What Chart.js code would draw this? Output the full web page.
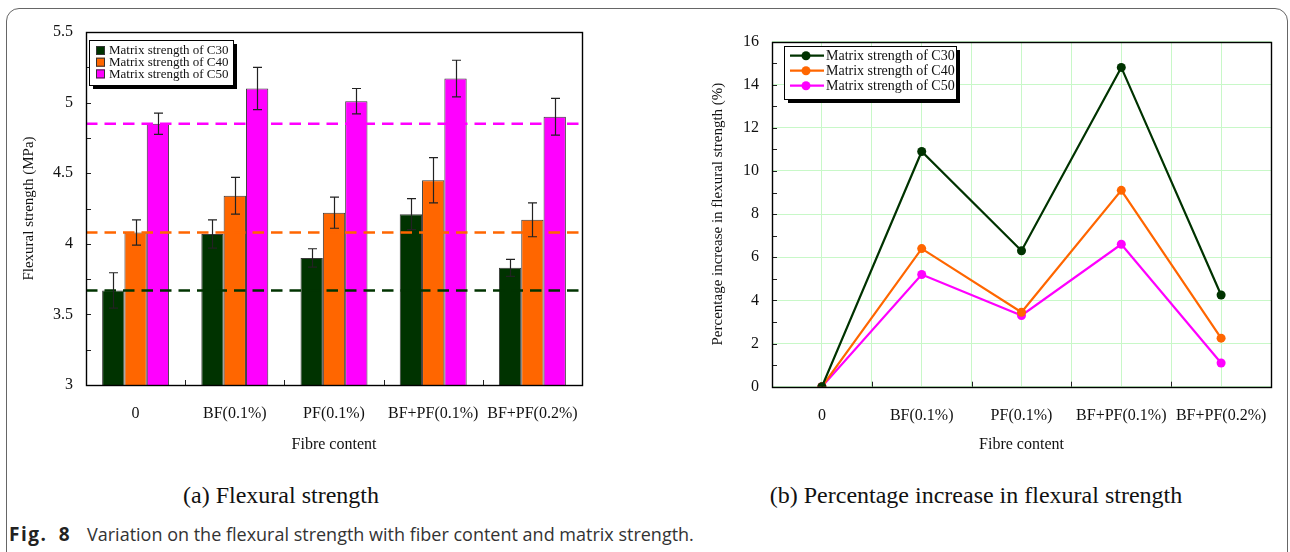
<!DOCTYPE html>
<html>
<head>
<meta charset="utf-8">
<script src="https://cdn.jsdelivr.net/npm/chart.js@4.4.1/dist/chart.umd.min.js"></script>
<style>
  html, body { margin: 0; padding: 0; background: #fff; }
  body { width: 1290px; height: 552px; position: relative; overflow: hidden; }
  .frame { position: absolute; left: 6px; top: 8px; width: 1282px; height: 620px; border: 1px solid #666; border-radius: 13px; box-sizing: border-box; }
  #flexural { position: absolute; left: 0; top: 0; }
  #increase { position: absolute; left: 640px; top: 0; }
  .sub { position: absolute; top: 482px; font: 24px "Liberation Serif", "Times New Roman", serif; color: #111; transform: translateX(-50%); white-space: nowrap; }
  .fig { position: absolute; top: 522px; font: 18px "Open Sans", sans-serif; color: #333; white-space: nowrap; }
  .fig.num { font-weight: bold; font-size: 19px; color: #222; top: 521px; left: 9px; letter-spacing: 1.5px; word-spacing: 5px; }
</style>
</head>
<body>
<div class="frame"></div>
<canvas id="flexural" width="610" height="460"></canvas>
<canvas id="increase" width="650" height="460"></canvas>
<div class="sub" style="left:281px">(a) Flexural strength</div>
<div class="sub" style="left:976px">(b) Percentage increase in flexural strength</div>
<div class="fig num">Fig. 8</div>
<div class="fig" style="left:87px">Variation on the flexural strength with fiber content and matrix strength.</div>

<script>
const categories = ['0', 'BF(0.1%)', 'PF(0.1%)', 'BF+PF(0.1%)', 'BF+PF(0.2%)'];
const seriesNames = ['Matrix strength of C30', 'Matrix strength of C40', 'Matrix strength of C50'];
const seriesColors = ['#003300', '#ff6600', '#ff00ff'];

// flexural strength, MPa
const strengthC30 = [3.67, 4.07, 3.90, 4.21, 3.83];
const strengthC40 = [4.08, 4.34, 4.22, 4.45, 4.17];
const strengthC50 = [4.85, 5.10, 5.01, 5.17, 4.90];
// error bar half-heights
const errorC30 = [0.125, 0.10, 0.065, 0.11, 0.06];
const errorC40 = [0.09, 0.13, 0.11, 0.16, 0.12];
const errorC50 = [0.075, 0.15, 0.09, 0.13, 0.13];

// percentage increase over plain matrix
const increaseC30 = [0, 10.9, 6.3, 14.8, 4.25];
const increaseC40 = [0, 6.4, 3.45, 9.1, 2.25];
const increaseC50 = [0, 5.2, 3.3, 6.6, 1.1];

const strengthTicks = [3, 3.5, 4, 4.5, 5, 5.5];
const increaseTicks = [0, 2, 4, 6, 8, 10, 12, 14, 16];

Chart.defaults.font.family = '"Liberation Serif", "Times New Roman", serif';
Chart.defaults.color = '#111';

// plot box plus short inward tick marks
const frameTicks = {
  id: 'frameTicks',
  afterDraw(chart, args, opts) {
    const {ctx, chartArea: a, scales: {x, y}} = chart;
    ctx.save();
    ctx.strokeStyle = '#222';
    ctx.lineWidth = 1;
    ctx.beginPath();
    for (let v = y.min + opts.yStep; v < y.max - 1e-9; v += opts.yStep) {
      const py = Math.round(y.getPixelForValue(v)) + 0.5;
      ctx.moveTo(a.left, py);
      ctx.lineTo(a.left + 5, py);
    }
    opts.xTicks(x).forEach(px => {
      px = Math.round(px) + 0.5;
      ctx.moveTo(px, a.bottom);
      ctx.lineTo(px, a.bottom - 5);
    });
    ctx.stroke();
    ctx.lineWidth = 1.4;
    ctx.strokeStyle = '#000';
    ctx.strokeRect(Math.round(a.left) + 0.5, Math.round(a.top) + 0.5, Math.round(a.width), Math.round(a.height));
    ctx.restore();
  }
};

// dashed reference lines at the plain-matrix strength
const dashedRefs = {
  id: 'dashedRefs',
  afterDatasetsDraw(chart) {
    const {ctx, chartArea: a, scales: {y}} = chart;
    ctx.save();
    ctx.lineWidth = 2.5;
    ctx.setLineDash([11.5, 7]);
    chart.data.datasets.forEach(ds => {
      const py = y.getPixelForValue(ds.data[0]);
      ctx.strokeStyle = ds.backgroundColor;
      ctx.beginPath();
      ctx.moveTo(a.left, py);
      ctx.lineTo(a.right, py);
      ctx.stroke();
    });
    ctx.restore();
  }
};

const errorBars = {
  id: 'errorBars',
  afterDatasetsDraw(chart) {
    const {ctx, scales: {y}} = chart;
    ctx.save();
    ctx.strokeStyle = '#222';
    ctx.lineWidth = 1.2;
    chart.data.datasets.forEach((ds, i) => {
      chart.getDatasetMeta(i).data.forEach((bar, j) => {
        const hi = y.getPixelForValue(ds.data[j] + ds.errors[j]);
        const lo = y.getPixelForValue(ds.data[j] - ds.errors[j]);
        const px = Math.round(bar.x) + 0.5;
        ctx.beginPath();
        ctx.moveTo(px, hi); ctx.lineTo(px, lo);
        ctx.moveTo(px - 4.5, hi); ctx.lineTo(px + 4.5, hi);
        ctx.moveTo(px - 4.5, lo); ctx.lineTo(px + 4.5, lo);
        ctx.stroke();
      });
    });
    ctx.restore();
  }
};

// legend box with a hard drop shadow
const boxLegend = {
  id: 'boxLegend',
  afterDraw(chart, args, o) {
    const {ctx} = chart;
    ctx.save();
    ctx.fillStyle = '#000';
    ctx.fillRect(o.x + 4, o.y + 4, o.w, o.h);
    ctx.fillStyle = '#fff';
    ctx.fillRect(o.x, o.y, o.w, o.h);
    ctx.strokeStyle = '#000';
    ctx.lineWidth = 1;
    ctx.strokeRect(o.x + 0.5, o.y + 0.5, o.w, o.h);
    ctx.font = o.fontSize + 'px ' + Chart.defaults.font.family;
    ctx.textBaseline = 'middle';
    chart.data.datasets.forEach((ds, i) => {
      const cy = o.y + o.first + i * o.gap;
      const color = ds.backgroundColor;
      if (o.kind === 'bar') {
        ctx.fillStyle = color;
        ctx.fillRect(o.x + 7, cy - 4.5, 9, 9);
        ctx.strokeStyle = '#333';
        ctx.strokeRect(o.x + 7.5, cy - 4, 8, 8);
      } else {
        ctx.strokeStyle = color;
        ctx.lineWidth = 2.2;
        ctx.beginPath();
        ctx.moveTo(o.x + 6, cy); ctx.lineTo(o.x + 40, cy);
        ctx.stroke();
        ctx.fillStyle = color;
        ctx.beginPath();
        ctx.arc(o.x + 22, cy, 4.5, 0, Math.PI * 2);
        ctx.fill();
      }
      ctx.fillStyle = '#111';
      ctx.fillText(ds.label, o.x + o.textX, cy + 0.5);
    });
    ctx.restore();
  }
};

new Chart(document.getElementById('flexural'), {
  type: 'bar',
  data: {
    labels: categories,
    datasets: [
      {label: seriesNames[0], data: strengthC30, errors: errorC30, backgroundColor: seriesColors[0]},
      {label: seriesNames[1], data: strengthC40, errors: errorC40, backgroundColor: seriesColors[1]},
      {label: seriesNames[2], data: strengthC50, errors: errorC50, backgroundColor: seriesColors[2]}
    ]
  },
  options: {
    responsive: false,
    animation: false,
    layout: {padding: {top: 32, right: 28, left: 0, bottom: 0}},
    datasets: {bar: {categoryPercentage: 0.675, barPercentage: 1, borderWidth: 1, borderColor: '#3a3a3a'}},
    plugins: {
      legend: {display: false},
      tooltip: {enabled: false},
      frameTicks: {
        yStep: 0.25,
        xTicks: x => categories.slice(1).map((c, i) => (x.getPixelForValue(i) + x.getPixelForValue(i + 1)) / 2)
      },
      boxLegend: {kind: 'bar', x: 89, y: 40, w: 144, h: 45, first: 10.5, gap: 11.7, textX: 20, fontSize: 13}
    },
    scales: {
      x: {
        grid: {display: false, drawTicks: false},
        border: {display: false},
        ticks: {padding: 19, font: {size: 16}, maxRotation: 0, autoSkip: false},
        title: {display: true, text: 'Fibre content', font: {size: 16}, padding: {top: 0, bottom: 6}},
        afterFit: s => { s.height = 75; }
      },
      y: {
        min: 3, max: 5.5,
        grid: {display: false, drawTicks: false},
        border: {display: false},
        ticks: {stepSize: 0.5, padding: 13, font: {size: 16}, callback: v => strengthTicks.includes(v) ? String(v) : ''},
        title: {display: true, text: 'Flexural strength (MPa)', font: {size: 15}, padding: {top: 20, bottom: 0}},
        afterFit: s => { s.width = 86; }
      }
    }
  },
  plugins: [dashedRefs, errorBars, frameTicks, boxLegend]
});

const toPoints = arr => arr.map((v, i) => ({x: i, y: v}));
const lineSet = (i, values) => ({
  label: seriesNames[i],
  data: toPoints(values),
  borderColor: seriesColors[i],
  backgroundColor: seriesColors[i],
  borderWidth: 2.2,
  pointRadius: 4.5,
  pointBorderWidth: 0,
  tension: 0
});

new Chart(document.getElementById('increase'), {
  type: 'line',
  data: {
    datasets: [lineSet(0, increaseC30), lineSet(1, increaseC40), lineSet(2, increaseC50)]
  },
  options: {
    responsive: false,
    animation: false,
    layout: {padding: {top: 41.5, right: 18.7, left: 0, bottom: 0}},
    plugins: {
      legend: {display: false},
      tooltip: {enabled: false},
      frameTicks: {
        yStep: 1,
        xTicks: x => categories.slice(1).map((c, i) => x.getPixelForValue(i + 0.5))
      },
      boxLegend: {kind: 'line', x: 144, y: 46, w: 172, h: 53, first: 9.7, gap: 15, textX: 42, fontSize: 14}
    },
    scales: {
      x: {
        type: 'linear',
        min: -0.5, max: 4.5,
        grid: {color: '#c8f8c8', lineWidth: 1, drawTicks: false},
        border: {display: false},
        ticks: {
          stepSize: 0.5, padding: 19, font: {size: 16}, maxRotation: 0, autoSkip: false,
          callback: v => Number.isInteger(v) ? categories[v] : ''
        },
        title: {display: true, text: 'Fibre content', font: {size: 16}, padding: {top: 0, bottom: 6}},
        afterFit: s => { s.height = 73.3; }
      },
      y: {
        min: 0, max: 16,
        grid: {color: '#c8f8c8', lineWidth: 1, drawTicks: false},
        border: {display: false},
        ticks: {stepSize: 1, padding: 13, font: {size: 16}, callback: v => increaseTicks.includes(v) ? String(v) : ''},
        title: {display: true, text: 'Percentage increase in flexural strength (%)', font: {size: 15}, padding: {top: 69, bottom: 0}},
        afterFit: s => { s.width = 132; }
      }
    }
  },
  plugins: [frameTicks, boxLegend]
});
</script>
</body>
</html>
